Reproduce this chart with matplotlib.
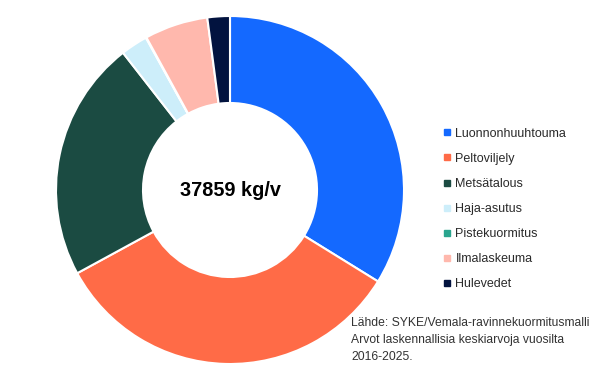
import matplotlib.pyplot as plt
from matplotlib.lines import Line2D

plt.rcParams['font.family'] = ['Liberation Sans', 'DejaVu Sans']

labels = ["Luonnonhuuhtouma", "Peltoviljely", "Metsätalous", "Haja-asutus",
          "Pistekuormitus", "Ilmalaskeuma", "Hulevedet"]
values = [12800, 12589, 8480, 950, 20, 2230, 790]
colors = ["#1469FF", "#FF6B47", "#1B4B42", "#CDEEFA", "#2AA58E", "#FFB8AD", "#02133F"]
total_text = "37859 kg/v"
source_text = ("Lähde: SYKE/Vemala-ravinnekuormitusmalli\n"
               "Arvot laskennallisia keskiarvoja vuosilta\n"
               "2016-2025.")

fig = plt.figure(figsize=(6, 3.79), dpi=100)
# center at (230,190) px, radius 174 px
ax = fig.add_axes([(230 - 174) / 600, (379 - 190 - 174) / 379, 348 / 600, 348 / 379])
ax.pie(values, colors=colors, startangle=90, counterclock=False, radius=1,
       wedgeprops=dict(width=0.5, edgecolor="white", linewidth=1.5))
ax.set_xlim(-1, 1)
ax.set_ylim(-1, 1)
ax.set_aspect('equal')
ax.axis('off')

ax.text(0, 0, total_text, ha='center', va='center', fontsize=14.3, fontweight='bold', color='black')

handles = [Line2D([0], [0], marker='s', linestyle='none', markersize=4,
                  markerfacecolor=c, markeredgecolor=c) for c in colors]
fig.legend(handles, labels, loc='center left', bbox_to_anchor=(438 / 600, 1 - 209 / 379),
           frameon=False, fontsize=9, labelspacing=1.05, handlelength=0.6,
           handletextpad=0.4, labelcolor='#2a2a2a', borderaxespad=0)

fig.text(351 / 600, 1 - 317 / 379, source_text, ha='left', va='top', fontsize=8.7,
         color='#333333', linespacing=1.55)

fig.savefig("out.png", dpi=100)
